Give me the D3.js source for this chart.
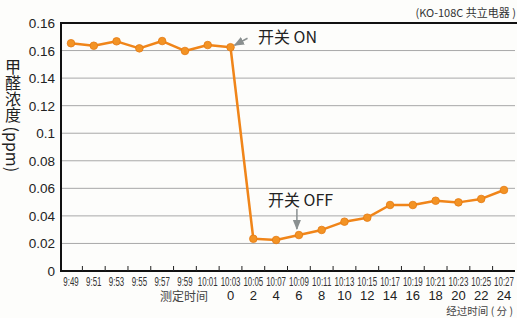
<!DOCTYPE html>
<html>
<head>
<meta charset="utf-8">
<script src="https://cdn.jsdelivr.net/npm/d3@7.9.0/dist/d3.min.js"></script>
<style>
  html, body { margin: 0; padding: 0; background: #fdfdfb; }
  svg { display: block; font-family: "Liberation Sans", Arial, "Noto Sans CJK SC", sans-serif; }
</style>
</head>
<body>
<div id="chart"></div>
<script>
// Data
const times = ["9:49", "9:51", "9:53", "9:55", "9:57", "9:59", "10:01", "10:03", "10:05", "10:07",
  "10:09", "10:11", "10:13", "10:15", "10:17", "10:19", "10:21", "10:23", "10:25", "10:27"];
const elapsed = ["", "", "", "", "", "", "", "0", "2", "4",
  "6", "8", "10", "12", "14", "16", "18", "20", "22", "24"];
const values = [0.1653, 0.1635, 0.1667, 0.1616, 0.1669, 0.1597, 0.1640, 0.1624, 0.0234, 0.0225,
  0.0261, 0.0298, 0.0358, 0.0387, 0.0479, 0.0479, 0.0510, 0.0498, 0.0523, 0.0588];
const yTicks = [0, 0.02, 0.04, 0.06, 0.08, 0.1, 0.12, 0.14, 0.16, 0.18];
const yTickLabels = ["0", "0.02", "0.04", "0.06", "0.08", "0.1", "0.12", "0.14", "0.16", "0.16"];

const W = 517, H = 318;
const plot = { left: 61, right: 515, top: 23, bottom: 271 };

const svg = d3.select("#chart").append("svg")
  .attr("width", W).attr("height", H);

const x = d3.scalePoint().domain(times).range([71, 504]);
const y = d3.scaleLinear().domain([0, 0.18]).range([plot.bottom, plot.top]);

// gridlines
svg.append("g")
  .selectAll("line")
  .data(yTicks.filter(d => d > 0 && d < 0.18))
  .join("line")
  .attr("x1", plot.left).attr("x2", plot.right)
  .attr("y1", d => y(d)).attr("y2", d => y(d))
  .attr("stroke", "#a8a8a8").attr("stroke-width", 1);

// y tick labels
svg.append("g")
  .selectAll("text")
  .data(yTicks)
  .join("text")
  .attr("x", 55).attr("y", d => y(d) + 5)
  .attr("text-anchor", "end")
  .attr("font-size", 13.5)
  .attr("fill", "#222")
  .text((d, i) => yTickLabels[i]);

// axes frame
svg.append("line")
  .attr("x1", plot.left).attr("x2", 517)
  .attr("y1", plot.top).attr("y2", plot.top)
  .attr("stroke", "#111").attr("stroke-width", 2);
svg.append("line")
  .attr("x1", plot.left).attr("x2", plot.left)
  .attr("y1", plot.top - 1).attr("y2", plot.bottom + 1)
  .attr("stroke", "#111").attr("stroke-width", 2);
svg.append("line")
  .attr("x1", plot.left).attr("x2", plot.right)
  .attr("y1", plot.bottom).attr("y2", plot.bottom)
  .attr("stroke", "#111").attr("stroke-width", 2);

// small ticks between time labels
const mids = times.slice(0, -1).map((t, i) => (x(t) + x(times[i + 1])) / 2);
svg.append("g")
  .selectAll("line")
  .data(mids)
  .join("line")
  .attr("x1", d => d).attr("x2", d => d)
  .attr("y1", plot.bottom).attr("y2", plot.bottom - 5)
  .attr("stroke", "#222").attr("stroke-width", 1);

// time labels (condensed by a horizontal squeeze)
svg.append("g")
  .selectAll("text")
  .data(times)
  .join("text")
  .attr("transform", d => `translate(${x(d)},286) scale(0.66,1)`)
  .attr("text-anchor", "middle")
  .attr("font-size", 12)
  .attr("fill", "#333")
  .text(d => d);

// elapsed minutes labels
svg.append("g")
  .selectAll("text")
  .data(times.filter((t, i) => elapsed[i] !== ""))
  .join("text")
  .attr("x", d => x(d)).attr("y", 299.5)
  .attr("text-anchor", "middle")
  .attr("font-size", 13)
  .attr("fill", "#222")
  .text(d => elapsed[times.indexOf(d)]);

svg.append("text")
  .attr("x", 208).attr("y", 301)
  .attr("text-anchor", "end")
  .attr("font-size", 12)
  .attr("font-family", "Noto Sans CJK SC")
  .attr("fill", "#444")
  .text("测定时间");

svg.append("text")
  .attr("x", 513).attr("y", 314.5)
  .attr("text-anchor", "end")
  .attr("font-size", 10.5)
  .attr("font-family", "Noto Sans CJK SC")
  .attr("fill", "#444")
  .text("经过时间 ( 分 )");

// source note
svg.append("text")
  .attr("x", 516).attr("y", 17)
  .attr("text-anchor", "end")
  .attr("font-size", 11)
  .attr("font-family", "Noto Sans CJK SC")
  .attr("fill", "#333")
  .text("(KO-108C 共立电器 )");

// y axis title, vertical
svg.append("text")
  .attr("x", 13).attr("y", 59)
  .attr("font-size", 16)
  .attr("font-family", "Noto Sans CJK SC")
  .attr("fill", "#222")
  .style("writing-mode", "vertical-rl")
  .text("甲醛浓度 (ppm)");

// series line and markers
const line = d3.line().x((d, i) => x(times[i])).y(d => y(d));
svg.append("path")
  .datum(values)
  .attr("d", line)
  .attr("fill", "none")
  .attr("stroke", "#f08519")
  .attr("stroke-width", 2.5)
  .attr("stroke-linejoin", "round");

svg.append("g")
  .selectAll("circle")
  .data(values)
  .join("circle")
  .attr("cx", (d, i) => x(times[i]))
  .attr("cy", d => y(d))
  .attr("r", 3.8)
  .attr("fill", "#f39324")
  .attr("stroke", "#e57a12")
  .attr("stroke-width", 0.8);

// annotations
svg.append("defs").append("marker")
  .attr("id", "arr")
  .attr("viewBox", "0 0 10 10")
  .attr("refX", 9).attr("refY", 5)
  .attr("markerWidth", 7).attr("markerHeight", 7)
  .attr("orient", "auto")
  .append("path")
  .attr("d", "M0,1 L10,5 L0,9 Z")
  .attr("fill", "#8a9090");

const onX = x("10:03"), onY = y(values[7]);
svg.append("line")
  .attr("x1", onX + 17).attr("y1", onY - 9)
  .attr("x2", onX + 4).attr("y2", onY - 2)
  .attr("stroke", "#8a9090").attr("stroke-width", 1.5)
  .attr("marker-end", "url(#arr)");
svg.append("text")
  .attr("x", 258).attr("y", 43)
  .attr("font-size", 16)
  .attr("font-family", "Noto Sans CJK SC")
  .attr("fill", "#222")
  .text("开关 ON");

const offX = x("10:09"), offY = y(values[10]);
svg.append("line")
  .attr("x1", offX - 2).attr("y1", 209)
  .attr("x2", offX - 2).attr("y2", offY - 6)
  .attr("stroke", "#8a9090").attr("stroke-width", 1.5)
  .attr("marker-end", "url(#arr)");
svg.append("text")
  .attr("x", 268).attr("y", 206)
  .attr("font-size", 16)
  .attr("font-family", "Noto Sans CJK SC")
  .attr("fill", "#222")
  .text("开关 OFF");
</script>
</body>
</html>
